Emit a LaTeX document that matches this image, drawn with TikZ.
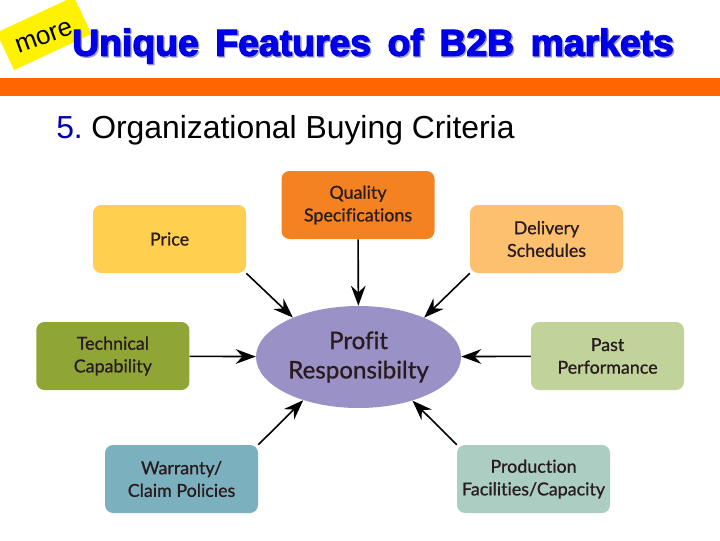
\documentclass[tikz,border=0pt]{standalone}
\usepackage{fontspec}
\setmainfont{Liberation Sans}
\newfontfamily\TitleFont[FakeBold=3.4,WordSpace=1.6]{Liberation Sans Bold}
\newfontfamily\BoxFont[FakeBold=0.9,Ligatures=NoCommon]{Lato}
\usetikzlibrary{shapes.geometric, arrows.meta, positioning}
\definecolor{BandOrange}{HTML}{FF6600}
\definecolor{TitleBlue}{HTML}{0000E6}
\definecolor{TitleShade}{HTML}{A0A0CC}
\definecolor{BoxText}{HTML}{2A1B1F}
\definecolor{Purple}{HTML}{9A92C6}
\definecolor{QualityFill}{HTML}{F58220}
\definecolor{PriceFill}{HTML}{FFD04F}
\definecolor{DeliveryFill}{HTML}{FDC06E}
\definecolor{TechnicalFill}{HTML}{8FA636}
\definecolor{PastFill}{HTML}{BFD39A}
\definecolor{WarrantyFill}{HTML}{7BB1BE}
\definecolor{ProductionFill}{HTML}{ABCDC2}

\begin{document}
\begin{tikzpicture}[
        on grid,
        Box/.style={rectangle, rounded corners=6pt, minimum width=114.75pt, minimum height=51pt, align=center, inner sep=0pt, text=BoxText, font=\BoxFont\fontsize{13.4pt}{17pt}\selectfont},
        Centre/.style={ellipse, fill=Purple, minimum width=153.75pt, minimum height=76.5pt, align=center, inner sep=0pt, text=BoxText, font=\BoxFont\fontsize{18.1pt}{22pt}\selectfont},
        Title/.style={anchor=base west, inner sep=0pt, font=\TitleFont\fontsize{28pt}{28pt}\selectfont},
        Link/.style={-{Stealth[length=15pt, width=11pt, inset=5pt]}, line width=1.2pt, black}
    ]
    \useasboundingbox (0,0) rectangle (540pt,405pt);

    % Sticker and title
    \node (Sticker) [fill=yellow, rotate=25, minimum width=64pt, minimum height=31pt, inner sep=0pt] at (33pt,380pt) {};
    \node (TitleBack) [Title, text=TitleShade] at (55pt,362.25pt) {Unique Features of B2B markets};
    \node (TitleFront) [Title, text=TitleBlue] at (54pt,363.25pt) {Unique Features of B2B markets};
    \node (More) [rotate=20, inner sep=0pt, font=\fontsize{19.5pt}{19.5pt}\selectfont] at (33pt,377pt) {more};

    % Orange band and heading
    \node (Band) [fill=BandOrange, minimum width=540pt, minimum height=13.5pt, inner sep=0pt] at (270pt,339.75pt) {};
    \node (Heading) [anchor=base west, inner sep=0pt, font=\fontsize{23.9pt}{23.9pt}\selectfont] at (42pt,301.5pt) {\textcolor{blue!70!black}{5.}\kern-2.5pt{} Organizational Buying Criteria};

    % Centre and the boxes round it
    \node (Profit) [Centre] at (268.9pt,137.25pt) {Profit\\Responsibilty};
    \node (Quality) [Box, fill=QualityFill, above=114pt of Profit, xshift=-0.4pt] {Quality\\Specifications};
    \node (Price) [Box, fill=PriceFill, above left=88.5pt and 141.75pt of Profit] {Price};
    \node (Delivery) [Box, fill=DeliveryFill, above right=88.5pt and 141pt of Profit] {Delivery\\Schedules};
    \node (Technical) [Box, fill=TechnicalFill, left=184.25pt of Profit, yshift=0.75pt] {Technical\\Capability};
    \node (Past) [Box, fill=PastFill, right=186.75pt of Profit, yshift=0.75pt] {Past\\Performance};
    \node (Warranty) [Box, fill=WarrantyFill, below left=91.5pt and 132.75pt of Profit] {Warranty/\\Claim Policies};
    \node (Production) [Box, fill=ProductionFill, below right=91.5pt and 131.25pt of Profit] {Production\\Facilities/Capacity};

    % Connectors
    \draw[Link] (Quality) -- (Profit);
    \draw[Link] (Price.south east) -- (Profit.149);
    \draw[Link] (Delivery.south west) -- (Profit.31);
    \draw[Link] (Technical) -- (Profit);
    \draw[Link] (Past) -- (Profit);
    \draw[Link] (Warranty.north east) -- (Profit.218);
    \draw[Link] (Production.north west) -- (Profit.321);

\end{tikzpicture}
\end{document}
